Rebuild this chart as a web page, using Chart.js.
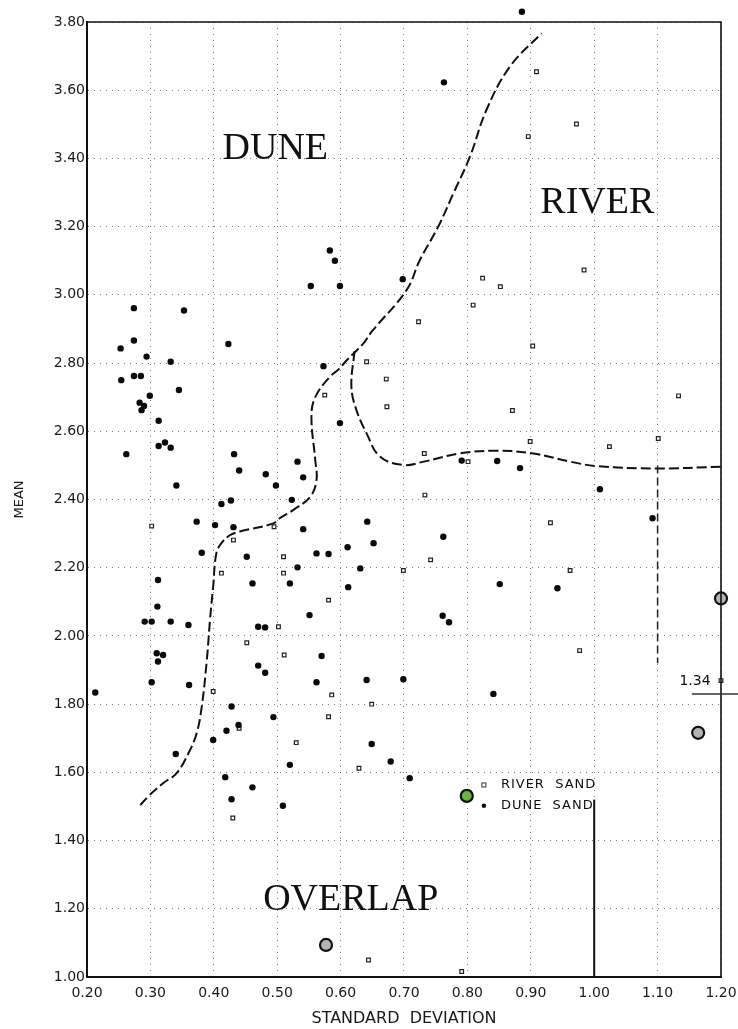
<!DOCTYPE html>
<html>
<head>
<meta charset="utf-8">
<script src="https://cdn.jsdelivr.net/npm/chart.js@4.4.1/dist/chart.umd.min.js"></script>
<style>
html,body{margin:0;padding:0;background:#fff;}
canvas{display:block;}
</style>
</head>
<body>
<canvas id="c" width="738" height="1029"></canvas>
<script>
// ---------- tick values / labels ----------
const xTickValues = [0.2,0.3,0.4,0.5,0.6,0.7,0.8,0.9,1.0,1.1,1.2];
const xTickLabels = ['0.20','0.30','0.40','0.50','0.60','0.70','0.80','0.90','1.00','1.10','1.20'];
const yTickValues = [1.0,1.2,1.4,1.6,1.8,2.0,2.2,2.4,2.6,2.8,3.0,3.2,3.4,3.6,3.8];
const yTickLabels = ['1.00','1.20','1.40','1.60','1.80','2.00','2.20','2.40','2.60','2.80','3.00','3.20','3.40','3.60','3.80'];

// ---------- series: [standard deviation, mean] ----------
const duneSand = [
 [0.886,3.83],[0.763,3.623],[0.583,3.13],[0.591,3.10],[0.553,3.026],[0.599,3.026],[0.698,3.046],
 [0.274,2.961],[0.353,2.954],[0.253,2.843],[0.274,2.866],[0.294,2.819],[0.332,2.804],[0.423,2.856],
 [0.254,2.750],[0.274,2.762],[0.285,2.762],[0.345,2.721],[0.299,2.704],[0.283,2.684],[0.290,2.674],
 [0.286,2.662],[0.313,2.631],[0.313,2.557],[0.323,2.567],[0.332,2.552],[0.262,2.533],[0.341,2.441],
 [0.432,2.533],[0.440,2.485],[0.482,2.474],[0.498,2.441],[0.532,2.511],[0.541,2.465],[0.412,2.387],
 [0.427,2.397],[0.523,2.399],[0.573,2.791],[0.599,2.624],[0.791,2.514],[0.847,2.513],[0.883,2.492],
 [1.009,2.430],[1.092,2.345],[0.373,2.335],[0.402,2.325],[0.431,2.319],[0.541,2.313],[0.642,2.335],
 [0.381,2.244],[0.452,2.232],[0.562,2.242],[0.581,2.240],[0.611,2.260],[0.631,2.198],[0.532,2.201],
 [0.312,2.164],[0.461,2.154],[0.520,2.154],[0.612,2.143],[0.311,2.086],[0.551,2.061],[0.291,2.042],
 [0.302,2.042],[0.332,2.042],[0.360,2.032],[0.470,2.027],[0.481,2.025],[0.310,1.949],[0.320,1.944],
 [0.312,1.925],[0.570,1.941],[0.470,1.913],[0.481,1.892],[0.302,1.864],[0.361,1.856],[0.562,1.864],
 [0.641,1.871],[0.213,1.834],[0.428,1.793],[0.494,1.762],[0.420,1.722],[0.439,1.739],[0.399,1.695],
 [0.340,1.654],[0.520,1.622],[0.418,1.586],[0.652,2.272],[0.762,2.291],[0.851,2.152],[0.942,2.140],
 [0.761,2.059],[0.771,2.040],[0.699,1.873],[0.841,1.830],[0.649,1.683],[0.679,1.632],[0.709,1.583],
 [0.428,1.521],[0.461,1.556],[0.509,1.502]
];
const riverSand = [
 [0.909,3.654],[0.972,3.501],[0.896,3.464],[0.984,3.073],[0.824,3.049],[0.852,3.024],[0.809,2.970],
 [0.723,2.921],[0.903,2.850],[0.672,2.753],[0.673,2.672],[0.871,2.661],[1.133,2.704],[0.899,2.570],
 [1.024,2.555],[1.101,2.579],[0.732,2.535],[0.733,2.413],[0.931,2.332],[0.801,2.511],[0.575,2.706],
 [0.641,2.804],[0.302,2.322],[0.431,2.281],[0.495,2.320],[0.510,2.232],[0.510,2.184],[0.412,2.184],
 [0.581,2.105],[0.502,2.027],[0.452,1.980],[0.511,1.944],[0.399,1.837],[0.586,1.827],[0.581,1.763],
 [0.440,1.729],[0.530,1.687],[0.629,1.612],[0.742,2.223],[0.699,2.192],[0.962,2.192],[0.977,1.957],
 [1.200,1.869],[0.649,1.800],[0.430,1.466],[0.644,1.050],[0.791,1.016]
];
const boundaryMain = [
 [0.284,1.504],[0.299,1.534],[0.320,1.568],[0.341,1.597],[0.360,1.656],[0.373,1.715],[0.381,1.793],
 [0.389,1.929],[0.394,2.047],[0.399,2.145],[0.404,2.242],[0.412,2.272],[0.426,2.296],[0.441,2.306],
 [0.494,2.330],[0.504,2.345],[0.525,2.369],[0.552,2.408],[0.562,2.457],[0.560,2.516],[0.554,2.643],
 [0.560,2.700],[0.583,2.760],[0.596,2.780],[0.610,2.809],[0.636,2.858],[0.649,2.892],[0.704,3.014],
 [0.725,3.102],[0.754,3.200],[0.778,3.298],[0.804,3.405],[0.830,3.542],[0.867,3.669],[0.917,3.767]
];
const boundaryBranch = [
 [0.622,2.835],[0.617,2.731],[0.625,2.662],[0.641,2.594],[0.662,2.526],[0.699,2.501],[0.731,2.511],
 [0.788,2.535],[0.846,2.543],[0.904,2.535],[0.962,2.511],[1.004,2.498],[1.098,2.491],[1.201,2.496]
];
const highlightGray = [[1.200,2.110],[1.164,1.716],[0.577,1.094]];
const highlightGreen = [[0.799,1.531]];
const refLineSolid = [[1.00,1.00],[1.00,1.52]];
const refLineDashed = [[1.10,2.50],[1.10,1.92]];

// ---------- text ----------
const regionLabels = ['DUNE','RIVER','OVERLAP'];
const legendLabels = ['RIVER  SAND','DUNE  SAND'];
const markLabel = '1.34';

// ---------- placement of the overlay text (data coordinates) ----------
const regionLabelAt = [[0.497,3.398],[1.005,3.240],[0.616,1.197]];
const legendAt = [[0.826,1.563],[0.826,1.502]];
const markLabelAt = [1.159,1.868];
const markArrowAt = [[1.154,1.830],[1.273,1.830]];

const pts = a => a.map(p => ({x:p[0], y:p[1]}));

const overlay = {
  id:'overlay',
  afterDatasetsDraw(chart){
    const {ctx, chartArea:a, scales:{x,y}} = chart;
    const px = v => x.getPixelForValue(v), py = v => y.getPixelForValue(v);
    // points lying just outside the frame (library elements, drawn without area culling)
    chart.data.datasets.forEach((ds, di) => {
      if (!ds.overflowPoints) return;
      chart.getDatasetMeta(di).data.forEach(el => {
        if (el.y < a.top || el.y > a.bottom || el.x < a.left || el.x > a.right) el.draw(ctx);
      });
    });
    ctx.save();
    // frame top / right
    ctx.strokeStyle = '#111'; ctx.lineWidth = 1.6; ctx.setLineDash([]);
    ctx.beginPath(); ctx.moveTo(a.left, a.top); ctx.lineTo(a.right, a.top); ctx.lineTo(a.right, a.bottom); ctx.stroke();
    // region labels
    ctx.fillStyle = '#111';
    ctx.font = '38px "Liberation Serif"';
    ctx.textAlign = 'center'; ctx.textBaseline = 'alphabetic';
    regionLabels.forEach((t,i) => ctx.fillText(t, px(regionLabelAt[i][0]), py(regionLabelAt[i][1])));
    // legend
    ctx.font = '13px "DejaVu Sans"';
    ctx.textAlign = 'left'; ctx.textBaseline = 'middle';
    try { ctx.letterSpacing = '1px'; } catch(e) {}
    const lx = px(legendAt[0][0]);
    const ly0 = py(legendAt[0][1]), ly1 = py(legendAt[1][1]);
    ctx.lineWidth = 1; ctx.strokeStyle = '#333';
    ctx.strokeRect(lx - 2, ly0 - 2, 4, 4);
    ctx.beginPath(); ctx.arc(lx, ly1, 2.3, 0, Math.PI*2); ctx.fill();
    ctx.fillText(legendLabels[0], lx + 17, ly0);
    ctx.fillText(legendLabels[1], lx + 17, ly1);
    try { ctx.letterSpacing = '0px'; } catch(e) {}
    // 1.34 mark
    ctx.font = '14px "DejaVu Sans"';
    ctx.textAlign = 'center'; ctx.textBaseline = 'middle';
    ctx.fillText(markLabel, px(markLabelAt[0]), py(markLabelAt[1]));
    const ax0 = px(markArrowAt[0][0]), ax1 = px(markArrowAt[1][0]), ay = py(markArrowAt[0][1]);
    ctx.lineWidth = 1.5;
    ctx.beginPath(); ctx.moveTo(ax0, ay); ctx.lineTo(ax1, ay); ctx.stroke();
    ctx.beginPath(); ctx.moveTo(ax1 - 12, ay); ctx.lineTo(ax1 - 5, ay - 3); ctx.lineTo(ax1 - 5, ay + 3); ctx.closePath(); ctx.fill();
    ctx.restore();
  }
};

new Chart(document.getElementById('c'), {
  type:'scatter',
  data:{
    datasets:[
      {label:'refSolid', data:pts(refLineSolid), showLine:true, borderColor:'#111', borderWidth:2, pointRadius:0, clip:false},
      {label:'refDashed', data:pts(refLineDashed), showLine:true, borderColor:'#222', borderWidth:1.5, borderDash:[8,4], pointRadius:0, clip:false},
      {label:'boundary', data:pts(boundaryMain), showLine:true, borderColor:'#111', borderWidth:2, borderDash:[10,4], tension:0.4, pointRadius:0, clip:false},
      {label:'boundary2', data:pts(boundaryBranch), showLine:true, borderColor:'#111', borderWidth:2, borderDash:[10,4], tension:0.4, pointRadius:0, clip:false},
      {label:'DUNE SAND', data:pts(duneSand), overflowPoints:true, pointStyle:'circle', pointRadius:3.2, backgroundColor:'#0a0a0a', borderColor:'#0a0a0a', borderWidth:0, clip:false},
      {label:'RIVER SAND', data:pts(riverSand), pointStyle:'rect', pointRadius:2.6, backgroundColor:'#ffffff', borderColor:'#222', borderWidth:1.2, clip:false},
      {label:'gray', data:pts(highlightGray), pointStyle:'circle', pointRadius:6, backgroundColor:'#b4b4b4', borderColor:'#111', borderWidth:2.2, clip:false},
      {label:'green', data:pts(highlightGreen), pointStyle:'circle', pointRadius:6, backgroundColor:'#6cb33e', borderColor:'#111', borderWidth:2.2, clip:false}
    ]
  },
  options:{
    responsive:false,
    animation:false,
    devicePixelRatio:1,
    layout:{padding:{top:22,right:17,left:0,bottom:0}},
    plugins:{legend:{display:false}, tooltip:{enabled:false}},
    scales:{
      x:{
        type:'linear', min:0.2, max:1.2,
        afterBuildTicks: s => { s.ticks = xTickValues.map(v => ({value:v})); },
        afterFit: s => { s.height = 52; s.paddingLeft = 0; s.paddingRight = 0; },
        ticks:{autoSkip:false, maxRotation:0, minRotation:0, padding:8, color:'#1a1a1a',
               font:{family:'DejaVu Sans', size:14}, callback:(v,i) => xTickLabels[i]},
        grid:{color:'rgba(0,0,0,0.5)', lineWidth:1, drawTicks:false},
        border:{display:true, color:'#111', width:2, dash:[1,5]},
        title:{display:true, text:'STANDARD  DEVIATION', color:'#1a1a1a',
               font:{family:'DejaVu Sans', size:16}, padding:{top:0,bottom:1}}
      },
      y:{
        type:'linear', min:1.0, max:3.8,
        afterBuildTicks: s => { s.ticks = yTickValues.map(v => ({value:v})); },
        afterFit: s => { s.width = 87; s.paddingTop = 0; s.paddingBottom = 0; },
        ticks:{autoSkip:false, padding:2, color:'#1a1a1a',
               font:{family:'DejaVu Sans', size:14}, callback:(v,i) => yTickLabels[i]},
        grid:{color:'rgba(0,0,0,0.5)', lineWidth:1, drawTicks:false},
        border:{display:true, color:'#111', width:2, dash:[1,5]},
        title:{display:true, text:'MEAN', color:'#1a1a1a',
               font:{family:'DejaVu Sans', size:13}, padding:{top:12,bottom:0}}
      }
    }
  },
  plugins:[overlay]
});
</script>
</body>
</html>
